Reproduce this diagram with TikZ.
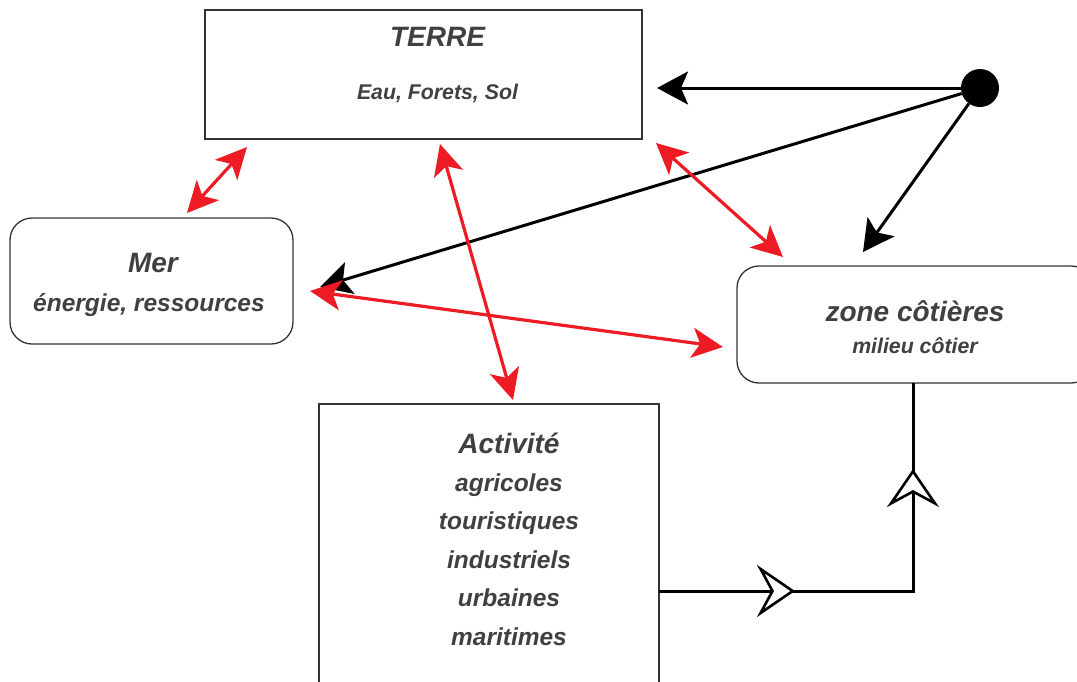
\documentclass[tikz,border=0pt]{standalone}
\usepackage{fontspec}
\setmainfont{Liberation Sans}
\usetikzlibrary{arrows.meta, positioning, calc, decorations.markings}
\definecolor{inkgray}{HTML}{404040}
\definecolor{linkred}{HTML}{ED1C24}
\definecolor{framegray}{HTML}{333333}

\begin{document}
\begin{tikzpicture}[
    x=1pt, y=-1pt,
    sharpbox/.style={draw=framegray, line width=1.3pt, inner sep=0pt, outer sep=0pt},
    softbox/.style={sharpbox, rounded corners=22pt},
    headtxt/.style={font=\fontsize{28}{32}\selectfont\bfseries\itshape, text=inkgray, anchor=base, inner sep=0pt},
    bodytxt/.style={headtxt, font=\fontsize{24.5}{28}\selectfont\bfseries\itshape},
    smalltxt/.style={headtxt, font=\fontsize{21.3}{24}\selectfont\bfseries\itshape},
    link/.style={linkred, line width=3.2pt, {Stealth[length=31pt, width=30pt, inset=8pt]}-{Stealth[length=31pt, width=30pt, inset=8pt]}},
    feed/.style={black, line width=3pt, -{Stealth[length=31pt, width=33pt, inset=7pt]}},
    flow/.style={black, line width=3pt, postaction={decorate}, decoration={markings,
        mark=at position 136pt with {\arrow{Stealth[length=38pt, width=52pt, inset=14pt, fill=white, line width=2.6pt]}},
        mark=at position 376pt with {\arrow{Stealth[length=38pt, width=52pt, inset=14pt, fill=white, line width=2.6pt]}}}}
  ]
    \useasboundingbox (0,0) rectangle (1077,681);

    % boxes
    \node[sharpbox, minimum width=437pt, minimum height=129pt] (terre) at (423.5,74.5) {};
    \node[softbox, minimum width=283pt, minimum height=126pt] (mer) at (151.5,281) {};
    \node[softbox, minimum width=356pt, minimum height=117pt] (zone) at (915,324.5) {};
    \node[sharpbox, minimum width=340pt, minimum height=316pt] (activ) at (489,562) {};
    \node[circle, fill=black, minimum size=38pt, inner sep=0pt] (dot) at (980,88) {};

    % texts
    \node[headtxt] (terreT) at (437.5,46.7) {TERRE};
    \node[smalltxt] (terreS) at (437.5,99.3) {Eau, Forets, Sol};
    \node[headtxt] (merT) at (153,272.7) {Mer};
    \node[bodytxt] (merS) at (149,311.7) {énergie, ressources};
    \node[headtxt] (zoneT) at (915,321) {zone côtières};
    \node[smalltxt] (zoneS) at (915,353.3) {milieu côtier};
    \node[headtxt] (activT) at (509,453.3) {Activité};
    \node[bodytxt] (act1) at (509,491.5) {agricoles};
    \node[bodytxt] (act2) at (509,529.5) {touristiques};
    \node[bodytxt] (act3) at (509,568) {industriels};
    \node[bodytxt] (act4) at (509,606.5) {urbaines};
    \node[bodytxt] (act5) at (509,645) {maritimes};

    % black arrows from the dot
    \draw[feed] (dot) -- ($(dot -| terre.east)+(15,0)$);
    \draw[feed] (dot) -- ($(mer.east)+(27,6)$);
    \draw[feed] (dot) -- ($(zone.north)+(-52,-14)$);

    % red links
    \draw[link] ($(mer.north)+(35.5,-5)$) -- ($(terre.south west)+(42,8)$);
    \draw[link] ($(terre.south)+(16.5,5)$) -- ($(activ.north)+(24,-4)$);
    \draw[link] ($(terre.south east)+(14,4)$) -- ($(zone.north west)+(46,-9)$);
    \draw[link] ($(mer.east)+(17,10)$) -- ($(zone.west)+(-14,22.5)$);

    % activity to coast
    \draw[flow] ($(activ.east)+(0,29)$) -| ([xshift=-2pt]zone.south);
\end{tikzpicture}
\end{document}
